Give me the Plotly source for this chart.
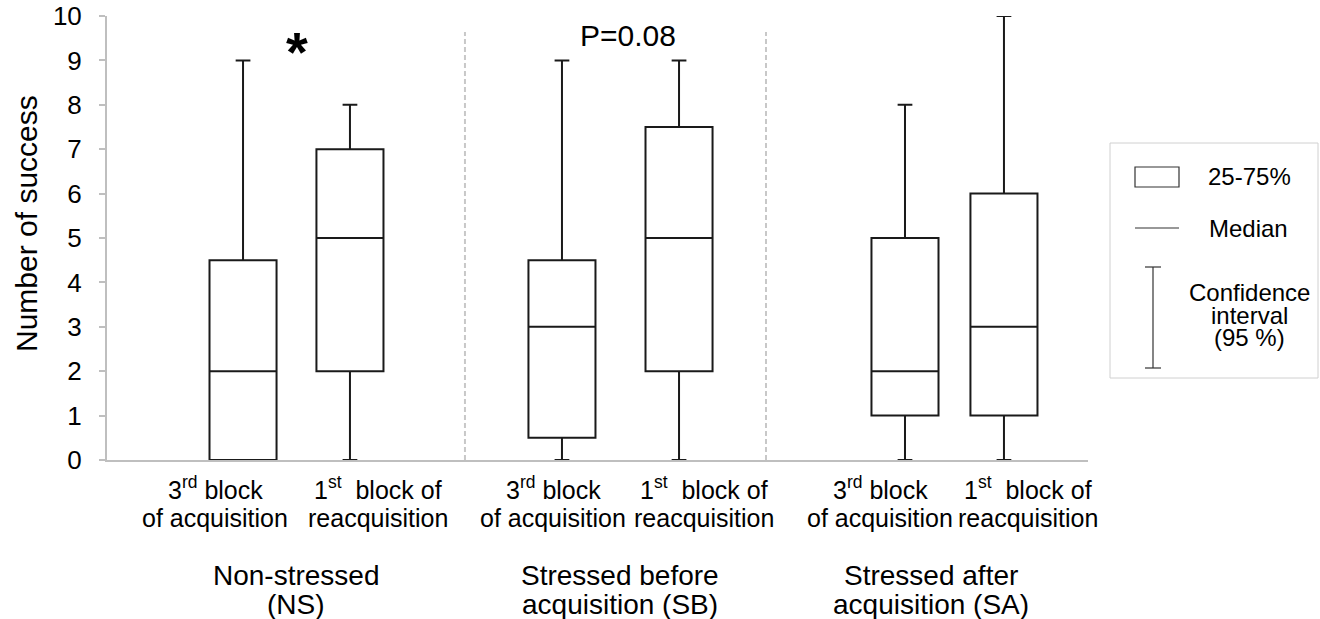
import plotly.graph_objects as go

# ---------------- data ----------------
groups = ["Non-stressed<br>(NS)", "Stressed before<br>acquisition (SB)", "Stressed after<br>acquisition (SA)"]
phases = ["3<sup>rd</sup> block<br>of acquisition", "1<sup>st</sup>  block of<br>reacquisition"]
box_names = ["NS 3rd", "NS 1st", "SB 3rd", "SB 1st", "SA 3rd", "SA 1st"]
q_min = [0, 0, 0, 0, 0, 0]
q_1 = [0, 2, 0.5, 2, 1, 1]
q_med = [2, 5, 3, 5, 2, 3]
q_3 = [4.5, 7, 4.5, 7.5, 5, 6]
q_max = [9, 8, 9, 9, 8, 10]
y_ticks = list(range(0, 11))
y_title = "Number of success"
stat_labels = ["*", "P=0.08"]
legend_labels = ["25-75%", "Median", "Confidence<br>interval<br>(95 %)"]

# ---------------- layout constants ----------------
W, H = 1320, 619
L, R, T, B = 107, 1088, 16, 460  # plot area in pixels
pos = [1.248, 2.229, 4.174, 5.248, 7.321, 8.229]  # box centres on x axis [0, 9]
sep = [3.284, 6.046]
FONT = "Liberation Sans, Arial, sans-serif"
LINE = "#1a1a1a"
GRAY = "#bfbfbf"


def pxx(p):
    return (p - L) / (R - L)


def pxy(p):
    return (B - p) / (B - T)


fig = go.Figure()
fig.add_trace(go.Box(
    x=pos, q1=q_1, median=q_med, q3=q_3, lowerfence=q_min, upperfence=q_max,
    name="", width=0.615, whiskerwidth=0.22, boxpoints=False,
    line=dict(color=LINE, width=2), fillcolor="white", showlegend=False,
    hoverinfo="skip",
))

shapes = []
for s in sep:
    shapes.append(dict(type="line", xref="x", yref="y", x0=s, x1=s, y0=0, y1=9.64,
                       line=dict(color="#c8c8c8", width=2, dash="5px,3px"), layer="below"))

# legend box
LC = "#333333"
shapes.append(dict(type="rect", xref="paper", yref="paper",
                   x0=pxx(1110), x1=pxx(1318), y0=pxy(378), y1=pxy(143),
                   line=dict(color="#d0d0d0", width=1)))
shapes.append(dict(type="rect", xref="paper", yref="paper",
                   x0=pxx(1135), x1=pxx(1179), y0=pxy(187), y1=pxy(167),
                   line=dict(color=LC, width=1.2)))
shapes.append(dict(type="line", xref="paper", yref="paper",
                   x0=pxx(1135), x1=pxx(1179), y0=pxy(228), y1=pxy(228),
                   line=dict(color=LC, width=1.2)))
shapes.append(dict(type="line", xref="paper", yref="paper",
                   x0=pxx(1153), x1=pxx(1153), y0=pxy(267), y1=pxy(368),
                   line=dict(color=LC, width=1.2)))
for yy in (267, 368):
    shapes.append(dict(type="line", xref="paper", yref="paper",
                       x0=pxx(1145), x1=pxx(1161), y0=pxy(yy), y1=pxy(yy),
                       line=dict(color=LC, width=1.2)))

ann = []


def add_lines(text, xp, ys, size, anchor="center"):
    for line, yp in zip(text.split("<br>"), ys):
        ann.append(dict(text=line, xref="paper", yref="paper", x=pxx(xp), y=pxy(yp),
                        xanchor=anchor, yanchor="middle", showarrow=False,
                        font=dict(size=size, family=FONT, color="black")))


phase_x = [215, 378, 553, 704, 880, 1028]
for i, xp in enumerate(phase_x):
    add_lines(phases[i % 2], xp, [488, 518], 25)
group_x = [296, 620, 931]
for g, xp in zip(groups, group_x):
    add_lines(g, xp, [575, 604], 28)

ann.append(dict(text="<b>" + stat_labels[0] + "</b>", xref="paper", yref="paper", x=pxx(297), y=pxy(52),
                xanchor="center", yanchor="middle", showarrow=False,
                font=dict(size=56, family=FONT, color="black")))
ann.append(dict(text=stat_labels[1], xref="paper", yref="paper", x=pxx(628), y=pxy(36),
                xanchor="center", yanchor="middle", showarrow=False,
                font=dict(size=30, family=FONT, color="black")))
ann.append(dict(text=y_title, xref="paper", yref="paper", x=pxx(26), y=pxy(224),
                xanchor="center", yanchor="middle", showarrow=False, textangle=-90,
                font=dict(size=30, family=FONT, color="black")))
# legend texts
add_lines(legend_labels[0], 1206, [177], 24, "left")
add_lines(legend_labels[1], 1207, [228], 24, "left")
add_lines(legend_labels[2], 1249, [292, 315, 338], 24)

fig.update_layout(
    width=W, height=H,
    margin=dict(l=L, r=W - R, t=T, b=H - B, pad=0, autoexpand=False),
    paper_bgcolor="white", plot_bgcolor="white",
    shapes=shapes, annotations=ann, showlegend=False,
    font=dict(family=FONT, color="black"),
    xaxis=dict(range=[0, 9], showgrid=False, zeroline=False, showticklabels=False,
               ticks="", showline=True, linecolor=GRAY, linewidth=2, fixedrange=True,
               automargin=False),
    yaxis=dict(range=[0, 10], tickvals=y_ticks, showgrid=False, zeroline=False,
               showline=True, linecolor=GRAY, linewidth=2, ticks="outside", ticklen=6,
               tickcolor=GRAY, tickwidth=1.5, ticklabelstandoff=12, automargin=False,
               tickfont=dict(size=26, family=FONT, color="black")),
)

fig.write_html("out.html", config={"displayModeBar": False},
               post_script="document.body.style.margin='0px';")
